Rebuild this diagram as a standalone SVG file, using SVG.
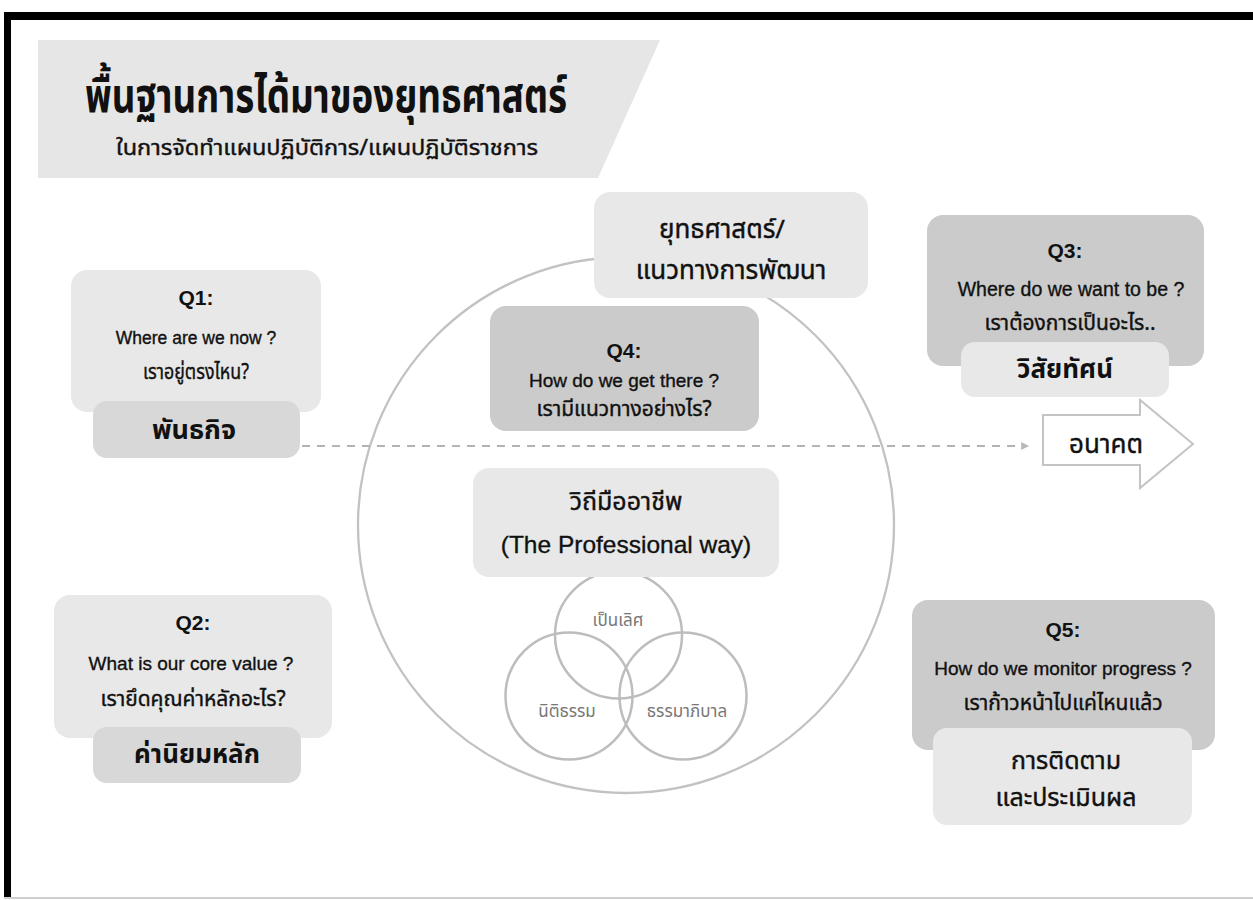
<svg xmlns="http://www.w3.org/2000/svg" width="1253" height="900" viewBox="0 0 1253 900">
<defs>
<style>
.th{font-family:"Noto Sans Thai","Noto Sans","Liberation Sans",sans-serif;fill:#111;text-anchor:middle}
.en{font-family:"Liberation Sans","Noto Sans",sans-serif;fill:#111;text-anchor:middle;stroke:#111;stroke-width:0.35}
.q{font-family:"Liberation Sans","Noto Sans",sans-serif;font-weight:bold;fill:#111;text-anchor:middle;font-size:21px}
.b{font-weight:bold}
.med{stroke:#111;stroke-width:0.4}
.light{fill:#e8e8e8}
.mid{fill:#d8d8d8}
.dark{fill:#cbcbcb}
.ring{fill:none;stroke:#c2c2c2;stroke-width:2.3}
.venn{fill:none;stroke:#bdbdbd;stroke-width:2.5}
.vl{font-family:"Noto Sans Thai","Noto Sans",sans-serif;fill:#777;text-anchor:middle;font-size:17px}
</style>
<marker id="tri" viewBox="0 0 10 10" refX="1" refY="5" markerWidth="8" markerHeight="12" markerUnits="userSpaceOnUse" orient="auto">
<path d="M0,0 L10,5 L0,10 Z" fill="#b8b8b8"/>
</marker>
</defs>
<rect width="1253" height="900" fill="#fff"/>
<g id="frame">
<rect x="4" y="12" width="1249" height="8" fill="#000"/>
<rect x="4" y="12" width="7" height="886" fill="#000"/>
<rect x="4" y="897" width="1249" height="2" fill="#cfcfcf"/>
</g>
<g id="title">
<polygon points="38,40 660,40 598,178 38,178" fill="#e6e6e6"/>
<text class="th b" x="326" y="112" font-size="48" textLength="482" lengthAdjust="spacingAndGlyphs">พื้นฐานการได้มาของยุทธศาสตร์</text>
<text class="th med" x="327" y="155" font-size="22" textLength="422" lengthAdjust="spacingAndGlyphs">ในการจัดทำแผนปฏิบัติการ/แผนปฏิบัติราชการ</text>
</g>
<g id="big-circle">
<circle class="ring" cx="626" cy="525" r="268"/>
</g>
<g id="venn">
<circle class="venn" cx="618.5" cy="635" r="63.5"/>
<circle class="venn" cx="569" cy="696" r="63.5"/>
<circle class="venn" cx="683" cy="696" r="63.5"/>
<text class="vl" x="618" y="626">เป็นเลิศ</text>
<text class="vl" x="567" y="717">นิติธรรม</text>
<text class="vl" x="687" y="717">ธรรมาภิบาล</text>
</g>
<g id="strategy">
<rect class="light" x="594" y="192" width="274" height="106" rx="16"/>
<text class="th med" x="722" y="238" font-size="26">ยุทธศาสตร์/</text>
<text class="th med" x="731" y="279" font-size="26">แนวทางการพัฒนา</text>
</g>
<g id="q4">
<rect class="dark" x="490" y="306" width="269" height="125" rx="16"/>
<text class="q" x="624" y="358">Q4:</text>
<text class="en" x="624" y="387" font-size="19">How do we get there ?</text>
<text class="th med" x="624" y="416" font-size="21">เรามีแนวทางอย่างไร?</text>
</g>
<g id="professional">
<rect class="light" x="473" y="468" width="306" height="109" rx="16"/>
<text class="th med" x="626" y="510" font-size="25">วิถีมืออาชีพ</text>
<text class="en" x="626" y="553" font-size="24.5">(The Professional way)</text>
</g>
<g id="q1">
<rect class="light" x="71" y="270" width="250" height="142" rx="16"/>
<text class="q" x="196" y="305">Q1:</text>
<text class="en" x="196" y="344" font-size="17.5">Where are we now ?</text>
<text class="th med" x="196" y="379" font-size="22" textLength="106" lengthAdjust="spacingAndGlyphs">เราอยู่ตรงไหน?</text>
<rect class="mid" x="93" y="401" width="207" height="57" rx="14"/>
<text class="th b" x="194" y="439" font-size="27">พันธกิจ</text>
</g>
<g id="q2">
<rect class="light" x="54" y="595" width="278" height="143" rx="16"/>
<text class="q" x="193" y="630">Q2:</text>
<text class="en" x="191" y="670" font-size="19">What is our core value ?</text>
<text class="th med" x="193" y="706" font-size="21">เรายึดคุณค่าหลักอะไร?</text>
<rect class="mid" x="93" y="727" width="208" height="56" rx="14"/>
<text class="th b" x="197" y="763" font-size="26">ค่านิยมหลัก</text>
</g>
<g id="q3">
<rect class="dark" x="927" y="215" width="277" height="151" rx="16"/>
<text class="q" x="1065" y="258">Q3:</text>
<text class="en" x="1071" y="296" font-size="19.5">Where do we want to be ?</text>
<text class="th med" x="1070" y="330" font-size="21">เราต้องการเป็นอะไร..</text>
<rect class="light" x="961" y="342" width="208" height="55" rx="14"/>
<text class="th b" x="1065" y="378" font-size="26">วิสัยทัศน์</text>
</g>
<g id="q5">
<rect class="dark" x="912" y="600" width="303" height="150" rx="16"/>
<text class="q" x="1063" y="637">Q5:</text>
<text class="en" x="1063" y="675" font-size="19">How do we monitor progress ?</text>
<text class="th med" x="1063" y="710" font-size="21">เราก้าวหน้าไปแค่ไหนแล้ว</text>
<rect class="light" x="933" y="728" width="259" height="97" rx="14"/>
<text class="th med" x="1066" y="769" font-size="25">การติดตาม</text>
<text class="th med" x="1066" y="806" font-size="25">และประเมินผล</text>
</g>
<g id="connectors">
<line x1="302" y1="446" x2="1022" y2="446" stroke="#b3b3b3" stroke-width="2" stroke-dasharray="8 7" marker-end="url(#tri)"/>
</g>
<g id="future">
<polygon points="1043,415 1140,415 1140,400 1193,444 1140,488 1140,465 1043,465" fill="#fff" stroke="#c4c4c4" stroke-width="2"/>
<text class="th med" x="1106" y="453" font-size="26">อนาคต</text>
</g>
</svg>
